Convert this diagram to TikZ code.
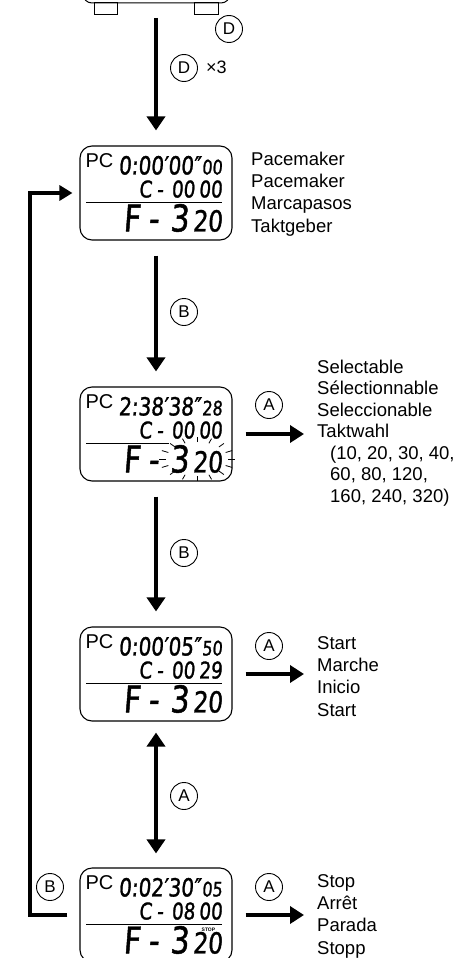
\documentclass[tikz,border=0pt]{standalone}
\usepackage{fontspec}
\setmainfont{Liberation Sans}
\newfontfamily\lcd[FakeStretch=0.8,FakeSlant=0.08,FakeBold=1.2]{DejaVu Sans}
\usetikzlibrary{arrows.meta,calc}

\newcommand\lcdsize[1]{\lcd\fontsize{#1}{#1}\selectfont}

% one watch face: name, centre, time, hundredths, lap, lap hundredths, end of rule
\newcommand\lcdface[7]{%
  \node[lcd] (#1) at (#2) {};
  \node[pc] (#1-pc) at ($(#1.north west)+(6,22)$) {PC};
  \node[seg] (#1-tm) at ($(#1.north west)+(143,29)$) {\lcdsize{25}#3\kern1pt\lcdsize{20}#4};
  \node[seg] (#1-lap) at ($(#1.north west)+(143,52)$) {\lcdsize{23}C\kern5pt-\kern8pt#5\kern4pt#6};
  \node[seg] (#1-pace) at ($(#1.north west)+(143,86)$) {\lcdsize{37}F\kern8pt-\kern11pt3\kern4pt\lcdsize{29}20};
  \draw[line width=1pt] ($(#1.north west)+(7,57)$) -- ($(#1.north west)+(#7,57)$);
}

\begin{document}
\begin{tikzpicture}[x=1pt, y=-1pt,
    lcd/.style={draw, line width=1.1pt, rounded corners=12pt, minimum width=152pt, minimum height=94pt, inner sep=0pt},
    pc/.style={anchor=base west, inner sep=0pt, font=\fontsize{20}{20}\selectfont},
    seg/.style={anchor=base east, inner sep=0pt, text depth=0pt},
    btn/.style={draw, circle, line width=0.9pt, minimum size=27pt, inner sep=0pt, font=\fontsize{17}{17}\selectfont},
    txt/.style={anchor=base west, align=left, inner sep=0pt, font=\fontsize{18.5}{22.3}\selectfont},
    flow/.style={line width=3.5pt, -{Triangle[width=18pt,length=14pt]}, shorten <=15pt, shorten >=15pt},
    both/.style={line width=3.5pt, {Triangle[width=18pt,length=14pt]}-{Triangle[width=18pt,length=14pt]}, shorten <=11pt, shorten >=14pt},
    side/.style={line width=4.5pt, -{Triangle[width=17pt,length=14pt]}, shorten <=13pt},
    back/.style={line width=3.5pt, -{Triangle[width=15pt,length=13pt]}, shorten <=12pt, shorten >=7pt},
    ray/.style={line width=0.8pt}]
  \useasboundingbox (0,0) rectangle (458,958);
  \clip (0,0) rectangle (458,958);

  % bottom of the watch
  \draw[line width=1pt, rounded corners=9pt] (83,-20) -- (83,3) -- (230,3) -- (230,-20);
  \draw[line width=1pt] (94,3) rectangle (117,15);
  \draw[line width=1pt] (194,3) rectangle (218,15);
  \node[btn] (d0) at (229,29) {D};

  \lcdface{s1}{156,193}{0:00′00″}{00}{00}{00}{143}
  \lcdface{s2}{156,434}{2:38′38″}{28}{00}{00}{90}
  \lcdface{s3}{156,674}{0:00′05″}{50}{00}{29}{143}
  \lcdface{s4}{156,915}{0:02′30″}{05}{08}{00}{143}
  \node[font=\bfseries\fontsize{5}{5}\selectfont, inner sep=0pt] (s4-stop) at ($(s4.north west)+(129,62)$) {STOP};

  % flashing value
  \coordinate (fc) at (197,459);
  \foreach \a in {0,22.5,...,337.5}
    \draw[ray] ($(fc)+({31*cos(\a)},{17*sin(\a)})$) -- ($(fc)+({38*cos(\a)},{22*sin(\a)})$);

  % arrows
  \coordinate (w) at (156,18);
  \draw[flow, shorten <=0pt] (w) -- (s1);
  \node[btn] (d1) at (184,68) {D};
  \node[anchor=base west, inner sep=0pt, font=\fontsize{18}{18}\selectfont] (x3) at (206,74) {×3};

  \draw[flow] (s1) -- (s2);
  \node[btn] (b1) at (184,312) {B};
  \draw[flow] (s2) -- (s3);
  \node[btn] (b2) at (184,553) {B};
  \draw[both] (s3) -- (s4);
  \node[btn] (a1) at (184,796) {A};

  \coordinate (r2) at (304,434);
  \coordinate (r3) at (304,674);
  \coordinate (r4) at (304,915);
  \draw[side] (s2) -- (r2);
  \draw[side] (s3) -- (r3);
  \draw[side] (s4) -- (r4);
  \node[btn] (a2) at (269,405) {A};
  \node[btn] (a3) at (269,646) {A};
  \node[btn] (a4) at (269,887) {A};

  \coordinate (lb) at (30,915);
  \coordinate (lt) at (30,193);
  \draw[back] (s4) -- (lb) -- (lt) -- (s1);
  \node[btn] (b3) at (50,887) {B};

  % texts (placed by the baseline of their last line)
  \node[txt] (t1) at (251,232) {Pacemaker\\Pacemaker\\Marcapasos\\Taktgeber};
  \node[txt, font=\fontsize{18.5}{21.5}\selectfont] (t2) at (317,502) {Selectable\\Sélectionnable\\Seleccionable\\Taktwahl\\\hspace*{13pt}(10, 20, 30, 40,\\\hspace*{13pt}60, 80, 120,\\\hspace*{13pt}160, 240, 320)};
  \node[txt] (t3) at (317,716) {Start\\Marche\\Inicio\\Start};
  \node[txt] (t4) at (317,954) {Stop\\Arrêt\\Parada\\Stopp};
\end{tikzpicture}
\end{document}
